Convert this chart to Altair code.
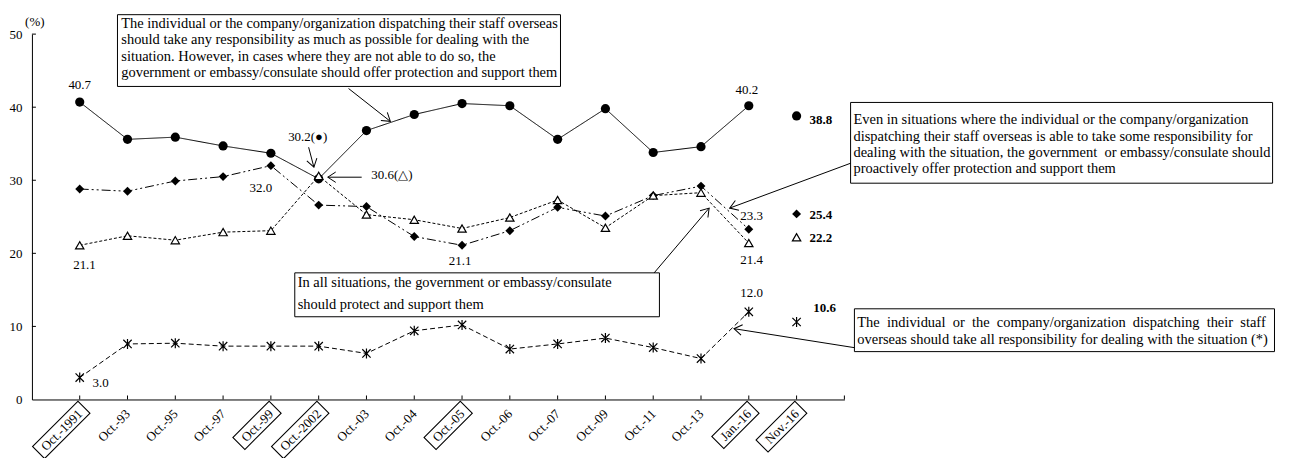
import json
import math
import altair as alt
import pandas as pd

# ---------------- data ----------------
categories = ["Oct.-1991", "Oct.-93", "Oct.-95", "Oct.-97", "Oct.-99", "Oct.-2002",
              "Oct.-03", "Oct.-04", "Oct.-05", "Oct.-06", "Oct.-07", "Oct.-09",
              "Oct.-11", "Oct.-13", "Jan.-16", "Nov.-16"]
boxed_labels = ["Oct.-1991", "Oct.-99", "Oct.-2002", "Oct.-05", "Jan.-16", "Nov.-16"]

s_take_any = [40.7, 35.6, 35.9, 34.7, 33.7, 30.2, 36.8, 39.0, 40.5, 40.2, 35.6, 39.8, 33.8, 34.6, 40.2, 38.8]
s_proactive = [28.8, 28.5, 29.9, 30.5, 32.0, 26.6, 26.4, 22.3, 21.1, 23.1, 26.3, 25.1, 27.9, 29.2, 23.3, 25.4]
s_all_gov = [21.1, 22.4, 21.8, 22.9, 23.1, 30.6, 25.3, 24.6, 23.4, 24.9, 27.3, 23.5, 27.9, 28.3, 21.4, 22.2]
s_self = [3.0, 7.6, 7.7, 7.3, 7.3, 7.3, 6.3, 9.4, 10.2, 6.9, 7.6, 8.4, 7.1, 5.6, 12.0, 10.6]

y_ticks = [0, 10, 20, 30, 40, 50]

# ---------------- layout / style ----------------
W, H = 815, 366.5
XMAX, YMAX = 17, 50
PX_X = W / XMAX
PX_Y = H / YMAX
FONT = "Liberation Serif"
BOX_FS = 14.5
VAL_FS = 13
NB = "\u00a0"

series = [
    ("take_any", s_take_any),
    ("proactive", s_proactive),
    ("all_gov", s_all_gov),
    ("self", s_self),
]
rows = []
for name, vals in series:
    for i, v in enumerate(vals):
        rows.append({"xi": i + 1, "val": v, "series": name, "cat": categories[i]})
df = pd.DataFrame(rows)
df_line = df[df["cat"] != "Nov.-16"]

x_scale = alt.Scale(domain=[0, XMAX], nice=False, zero=False)
y_scale = alt.Scale(domain=[0, YMAX], nice=False, zero=False)
x_axis = alt.Axis(values=list(range(1, 17)), labelExpr=json.dumps(categories) + "[datum.value - 1]",
                  labelAngle=315, labelAlign="right", labelBaseline="middle", labelPadding=12,
                  labelFont=FONT, labelFontSize=13, labelColor="black", ticks=False,
                  domainColor="black", domainWidth=1, grid=False, title=None, labelOverlap=False)
y_axis = alt.Axis(values=y_ticks, labelFont=FONT, labelFontSize=13, labelColor="black",
                  ticks=False, labelPadding=10, domainColor="black", domainWidth=1,
                  grid=False, title=None)


def X(f):
    return alt.X(f, type="quantitative", scale=x_scale, axis=x_axis)


def Y(f):
    return alt.Y(f, type="quantitative", scale=y_scale, axis=y_axis)


layers = []

# lines
dashes = {"take_any": [1, 0], "proactive": [9, 3, 2, 3, 2, 3], "all_gov": [3, 2], "self": [5, 3]}
for name, dash in dashes.items():
    layers.append(
        alt.Chart(df_line[df_line["series"] == name]).mark_line(
            color="black", strokeWidth=1, strokeDash=dash
        ).encode(x=X("xi"), y=Y("val"))
    )

# points
layers.append(alt.Chart(df[df["series"] == "take_any"]).mark_point(
    shape="circle", filled=True, color="black", size=85, opacity=1).encode(x=X("xi"), y=Y("val")))
layers.append(alt.Chart(df[df["series"] == "proactive"]).mark_point(
    shape="diamond", filled=True, color="black", size=80, opacity=1).encode(x=X("xi"), y=Y("val")))
layers.append(alt.Chart(df[df["series"] == "all_gov"]).mark_point(
    shape="triangle-up", filled=True, fill="white", stroke="black", strokeWidth=1.2, size=70,
    opacity=1).encode(x=X("xi"), y=Y("val")))
layers.append(alt.Chart(df[df["series"] == "self"]).mark_point(
    shape="M -1 -1 L 1 1 M -1 1 L 1 -1 M 0 -1.2 L 0 1.2", filled=False, stroke="black",
    strokeWidth=1.2, size=70, opacity=1).encode(x=X("xi"), y=Y("val")))

# inward ticks
xt = pd.DataFrame({"xi": list(range(1, 18)), "y0": 0.0, "y1": 4 / PX_Y})
layers.append(alt.Chart(xt).mark_rule(color="black", strokeWidth=1).encode(
    x=X("xi"), y=Y("y0"), y2="y1"))
yt = pd.DataFrame({"val": y_ticks[1:], "x0": 0.0, "x1": 4 / PX_X})
layers.append(alt.Chart(yt).mark_rule(color="black", strokeWidth=1).encode(
    x=X("x0"), x2="x1", y=Y("val")))

# boxes around some x labels
cw = {"O": .722, "c": .444, "t": .278, ".": .25, "-": .333, "J": .389, "a": .444, "n": .5,
      "N": .722, "o": .5, "v": .5}
bx = []
for lab in boxed_labels:
    i = categories.index(lab) + 1
    tl = sum(cw.get(ch, 0.5) for ch in lab) * 13
    hl = (tl + 12) / 2 / 10
    d = tl / 2 * 0.7071
    bx.append({"xi": i - d / PX_X, "val": -(12 + d) / PX_Y,
               "path": f"M {-hl:.2f} -0.85 L {hl:.2f} -0.85 L {hl:.2f} 0.85 L {-hl:.2f} 0.85 Z"})
layers.append(alt.Chart(pd.DataFrame(bx)).mark_point(
    filled=False, stroke="black", strokeWidth=1.1, size=400, angle=315, opacity=1).encode(
    x=X("xi"), y=Y("val"), shape=alt.Shape("path:N", scale=None, legend=None)))

# annotation boxes
boxes = pd.DataFrame([
    {"x": 1.79, "x2": 11.06, "y": 52.66, "y2": 42.84},
    {"x": 5.50, "x2": 13.13, "y": 17.33, "y2": 11.32},
    {"x": 17.13, "x2": 25.96, "y": 40.65, "y2": 29.60},
    {"x": 17.21, "x2": 26.00, "y": 12.41, "y2": 6.55},
])
layers.append(alt.Chart(boxes).mark_rect(fill="white", stroke="black", strokeWidth=1).encode(
    x=X("x"), x2="x2", y=Y("y"), y2="y2"))

just = (" " + NB).join(["The", "individual", "or", "the", "company/organization",
                        "dispatching", "their", "staff"])
box_lines = pd.DataFrame([
    {"x": 1.87, "y": 51.43, "t": "The individual or the company/organization dispatching their staff overseas"},
    {"x": 1.87, "y": 49.18, "t": "should take any responsibility as much as possible for dealing with the"},
    {"x": 1.87, "y": 46.93, "t": "situation. However, in cases where they are not able to do so, the"},
    {"x": 1.87, "y": 44.61, "t": "government or embassy/consulate should offer protection and support them"},
    {"x": 5.56, "y": 15.96, "t": "In all situations, the government or embassy/consulate"},
    {"x": 5.56, "y": 12.96, "t": "should protect and support them"},
    {"x": 17.19, "y": 38.20, "t": "Even in situations where the individual or the company/organization"},
    {"x": 17.19, "y": 35.88, "t": "dispatching their staff overseas is able to take some responsibility for"},
    {"x": 17.19, "y": 33.70, "t": "dealing with the situation, the government" + NB + " or embassy/consulate should"},
    {"x": 17.19, "y": 31.50, "t": "proactively offer protection and support them"},
    {"x": 17.27, "y": 10.50, "t": just},
    {"x": 17.27, "y": 8.19, "t": "overseas should take all responsibility for dealing with the situation (*)"},
])
layers.append(alt.Chart(box_lines).mark_text(
    align="left", baseline="middle", font=FONT, fontSize=BOX_FS, color="black").encode(
    x=X("x"), y=Y("y"), text="t:N"))

# value labels
vlabels = pd.DataFrame([
    {"x": 1.00, "y": 42.97, "t": "40.7", "a": "center", "w": "normal"},
    {"x": 1.10, "y": 18.42, "t": "21.1", "a": "center", "w": "normal"},
    {"x": 1.27, "y": 2.32, "t": "3.0", "a": "left", "w": "normal"},
    {"x": 4.79, "y": 28.92, "t": "32.0", "a": "center", "w": "normal"},
    {"x": 5.77, "y": 35.88, "t": "30.2(●)", "a": "center", "w": "normal"},
    {"x": 7.10, "y": 30.70, "t": "30.6(△)", "a": "left", "w": "normal"},
    {"x": 8.96, "y": 18.96, "t": "21.1", "a": "center", "w": "normal"},
    {"x": 14.96, "y": 42.30, "t": "40.2", "a": "center", "w": "normal"},
    {"x": 15.06, "y": 25.10, "t": "23.3", "a": "center", "w": "normal"},
    {"x": 15.06, "y": 19.10, "t": "21.4", "a": "center", "w": "normal"},
    {"x": 15.06, "y": 14.60, "t": "12.0", "a": "center", "w": "normal"},
    {"x": 16.27, "y": 38.20, "t": "38.8", "a": "left", "w": "bold"},
    {"x": 16.27, "y": 25.24, "t": "25.4", "a": "left", "w": "bold"},
    {"x": 16.27, "y": 22.10, "t": "22.2", "a": "left", "w": "bold"},
    {"x": 16.35, "y": 12.55, "t": "10.6", "a": "left", "w": "bold"},
    {"x": 0.06, "y": 51.60, "t": "(%)", "a": "center", "w": "normal"},
])
for (a, w), g in vlabels.groupby(["a", "w"]):
    layers.append(alt.Chart(g).mark_text(
        align=a, baseline="middle", font=FONT, fontSize=VAL_FS, fontWeight=w, color="black").encode(
        x=X("x"), y=Y("y"), text="t:N"))

# arrows
arrows = pd.DataFrame([
    {"x1": 6.625, "y1": 42.56, "x2": 7.50, "y2": 38.06},
    {"x1": 5.79, "y1": 34.52, "x2": 5.90, "y2": 31.79},
    {"x1": 6.90, "y1": 30.42, "x2": 6.19, "y2": 30.42},
    {"x1": 13.02, "y1": 17.33, "x2": 14.17, "y2": 26.19},
    {"x1": 17.13, "y1": 32.33, "x2": 14.60, "y2": 26.19},
    {"x1": 17.21, "y1": 7.09, "x2": 14.69, "y2": 9.69},
])
arrows["ang"] = [
    math.degrees(math.atan2(-(r.y2 - r.y1) * PX_Y, (r.x2 - r.x1) * PX_X)) % 360
    for r in arrows.itertuples()
]
layers.append(alt.Chart(arrows).mark_rule(color="black", strokeWidth=1).encode(
    x=X("x1"), x2="x2", y=Y("y1"), y2="y2"))
layers.append(alt.Chart(arrows).mark_point(
    shape="M -1 -0.65 L 0 0 L -1 0.65", filled=False, stroke="black", strokeWidth=1,
    size=256, opacity=1).encode(x=X("x2"), y=Y("y2"), angle=alt.Angle("ang:Q", scale=None)))

chart = alt.layer(*layers).properties(
    width=W, height=H,
    autosize=alt.AutoSizeParams(type="none"),
    padding={"left": 24, "top": 25.5, "right": 440, "bottom": 58},
).configure(font=FONT).configure_view(stroke=None, strokeWidth=0)

chart.save("out.html", embed_options={"renderer": "svg", "actions": False})
